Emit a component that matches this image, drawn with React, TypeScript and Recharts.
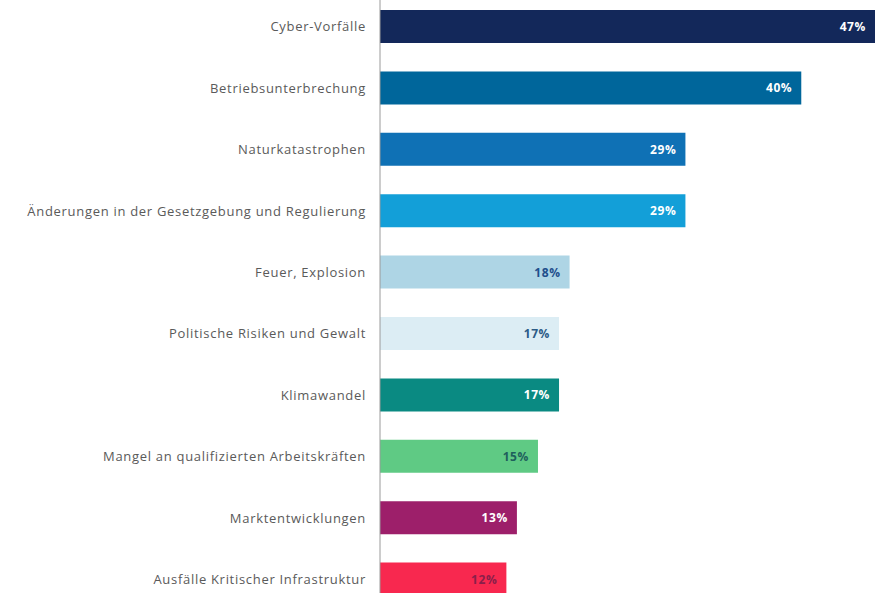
import { Bar, BarChart, Cell, LabelList, XAxis, YAxis } from "recharts";

const categories = [
  "Cyber-Vorfälle",
  "Betriebsunterbrechung",
  "Naturkatastrophen",
  "Änderungen in der Gesetzgebung und Regulierung",
  "Feuer, Explosion",
  "Politische Risiken und Gewalt",
  "Klimawandel",
  "Mangel an qualifizierten Arbeitskräften",
  "Marktentwicklungen",
  "Ausfälle Kritischer Infrastruktur",
];

const shares = [47, 40, 29, 29, 18, 17, 17, 15, 13, 12];

const barColors = [
  "#13285a",
  "#00669b",
  "#0f71b5",
  "#139fd8",
  "#aed5e5",
  "#dcedf4",
  "#0a8a82",
  "#5fca84",
  "#9d1f6a",
  "#f8284f",
];

const labelColors = [
  "#ffffff",
  "#ffffff",
  "#ffffff",
  "#ffffff",
  "#1f4e8c",
  "#2b5b86",
  "#ffffff",
  "#1e5f5c",
  "#ffffff",
  "#8a1f4a",
];

const data = categories.map((name, i) => ({ name, value: shares[i], idx: i }));

const FONT = "'Open Sans', sans-serif";

function ValueLabel(props: any) {
  const { x, y, width, height, value, index } = props;
  return (
    <text
      x={x + width - 9}
      y={y + height / 2}
      textAnchor="end"
      dominantBaseline="central"
      fill={labelColors[index]}
      fontFamily={FONT}
      fontSize={12}
      fontWeight={700}
      letterSpacing={0.6}
    >
      {`${value}%`}
    </text>
  );
}

export default function App() {
  return (
    <div style={{ position: "absolute", top: -4, left: 0, background: "#fff" }}>
      <BarChart
        width={881}
        height={614}
        data={data}
        layout="vertical"
        margin={{ top: 0, right: 6, bottom: 0, left: 0 }}
        barSize={33}
      >
        <XAxis type="number" domain={[0, 47]} hide />
        <YAxis
          type="category"
          dataKey="name"
          width={380}
          axisLine={{ stroke: "#9a9a9a" }}
          tickLine={false}
          tickMargin={8}
          tick={{ fill: "#5a5a5a", fontSize: 13, fontFamily: FONT, letterSpacing: 0.7 }}
          interval={0}
        />
        <Bar dataKey="value" isAnimationActive={false}>
          {data.map((d) => (
            <Cell key={d.name} fill={barColors[d.idx]} />
          ))}
          <LabelList dataKey="value" content={<ValueLabel />} />
        </Bar>
      </BarChart>
    </div>
  );
}
